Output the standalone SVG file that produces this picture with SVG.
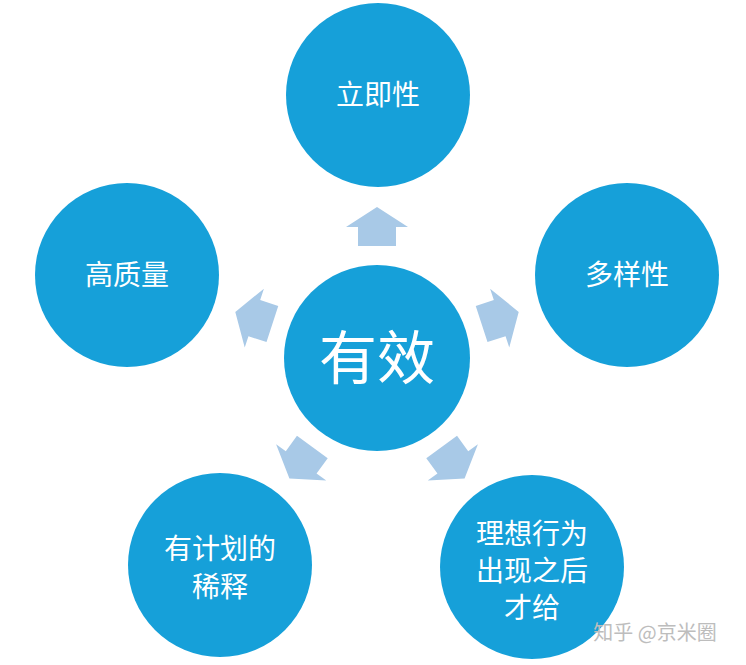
<svg xmlns="http://www.w3.org/2000/svg" width="746" height="665" viewBox="0 0 746 665">
<style>
.c{fill:#16a0d9}
.t{fill:#fff;font-family:"Noto Sans CJK SC","Noto Sans",sans-serif;font-size:28px;text-anchor:middle}
.a{fill:#a8c9e7}
</style>
<defs><path id="ar" d="M0,-19 L31,1 L19,1 L19,20 L-19,20 L-19,1 L-31,1 Z"/></defs>
<rect width="746" height="665" fill="#fff"/>
<g id="connectors">
<use href="#ar" class="a" transform="translate(377,358) rotate(0) translate(0,-132)"/>
<use href="#ar" class="a" transform="translate(377,358) rotate(72) translate(0,-130)"/>
<use href="#ar" class="a" transform="translate(377,358) rotate(144) translate(0,-130)"/>
<use href="#ar" class="a" transform="translate(377,358) rotate(216) translate(0,-130)"/>
<use href="#ar" class="a" transform="translate(377,358) rotate(288) translate(0,-130)"/>
</g>
<g id="top"><circle class="c" cx="378" cy="95" r="92"/><text class="t" x="378" y="105">立即性</text></g>
<g id="left"><circle class="c" cx="127" cy="275" r="92"/><text class="t" x="127" y="285">高质量</text></g>
<g id="right"><circle class="c" cx="627" cy="275" r="92"/><text class="t" x="627" y="285">多样性</text></g>
<g id="center"><circle class="c" cx="377" cy="358" r="93"/><text class="t" x="377" y="379" style="font-size:58px">有效</text></g>
<g id="bl"><circle class="c" cx="220" cy="565" r="92"/><text class="t" x="220" y="559">有计划的</text><text class="t" x="220" y="597">稀释</text></g>
<g id="br"><circle class="c" cx="532" cy="567" r="92"/><text class="t" x="532" y="544">理想行为</text><text class="t" x="532" y="581">出现之后</text><text class="t" x="532" y="618">才给</text></g>
<text x="655" y="640" style="fill:#bdbdbd;font-family:'Noto Sans CJK SC',sans-serif;font-size:20px;text-anchor:middle">知乎 @京米圈</text>
</svg>
